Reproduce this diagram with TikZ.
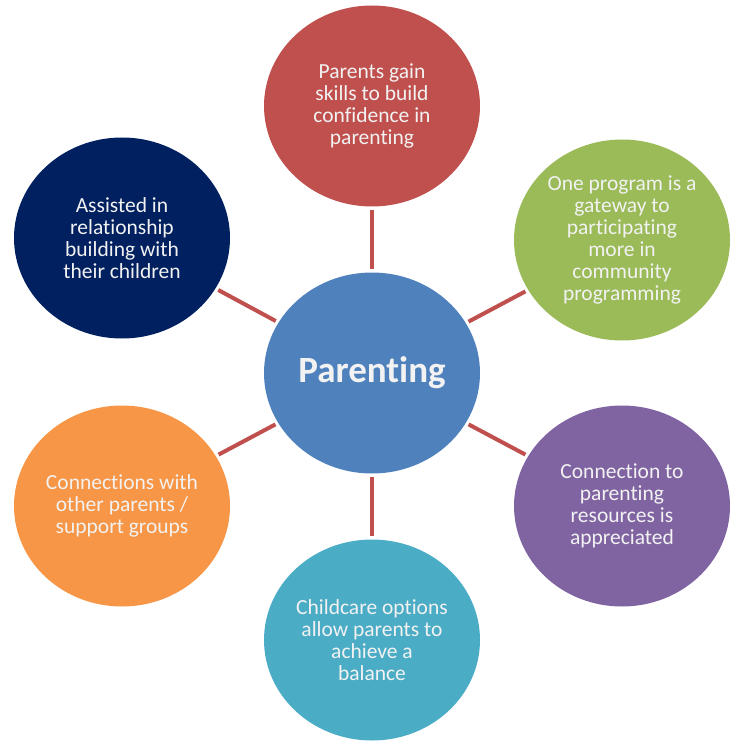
\documentclass[tikz,border=0pt]{standalone}
\usepackage{fontspec}
\setmainfont{Carlito}[Ligatures=NoCommon]
\usetikzlibrary{shapes.geometric}
\definecolor{spokered}{HTML}{C0504D}
\definecolor{hubblue}{HTML}{4F81BD}
\definecolor{skillred}{HTML}{C0504D}
\definecolor{gatewaygreen}{HTML}{9BBB59}
\definecolor{resourcepurple}{HTML}{8064A2}
\definecolor{childaqua}{HTML}{4BACC6}
\definecolor{grouporange}{HTML}{F79646}
\definecolor{relationnavy}{HTML}{002060}
\begin{document}
\begin{tikzpicture}[x=1pt,y=-1pt]
		\tikzstyle{every node}+=[inner sep=0pt]
		\tikzstyle{bubble}=[ellipse, minimum width=216pt, minimum height=201pt, text=white!95!black, align=center, font=\fontsize{21.5}{22}\selectfont]
		\tikzstyle{spoke}=[line width=4pt, draw=spokered, shorten <=3pt, shorten >=3pt]
		\useasboundingbox (0,0) rectangle (740,743);
		\node [bubble, fill=hubblue] (hub) at (372,373) {\fontsize{37}{40}\selectfont\bfseries Parenting};
		\node [bubble, fill=skillred] (skills) at (372,106) {Parents gain\\skills to build\\confidence in\\parenting};
		\node [bubble, fill=gatewaygreen] (gateway) at (622,240) {One program is a\\gateway to\\participating\\more in\\community\\programming};
		\node [bubble, fill=resourcepurple] (resources) at (622,506) {Connection to\\parenting\\resources is\\appreciated};
		\node [bubble, fill=childaqua] (childcare) at (372,640) {Childcare options\\allow parents to\\achieve a\\balance};
		\node [bubble, fill=grouporange] (groups) at (122,506) {Connections with\\other parents /\\support groups};
		\node [bubble, fill=relationnavy] (relation) at (122,238) {Assisted in\\relationship\\building with\\their children};
		\draw [spoke] (hub) -- (skills);
		\draw [spoke] (hub) -- (gateway);
		\draw [spoke] (hub) -- (resources);
		\draw [spoke] (hub) -- (childcare);
		\draw [spoke] (hub) -- (groups);
		\draw [spoke] (hub) -- (relation);
\end{tikzpicture}
\end{document}
